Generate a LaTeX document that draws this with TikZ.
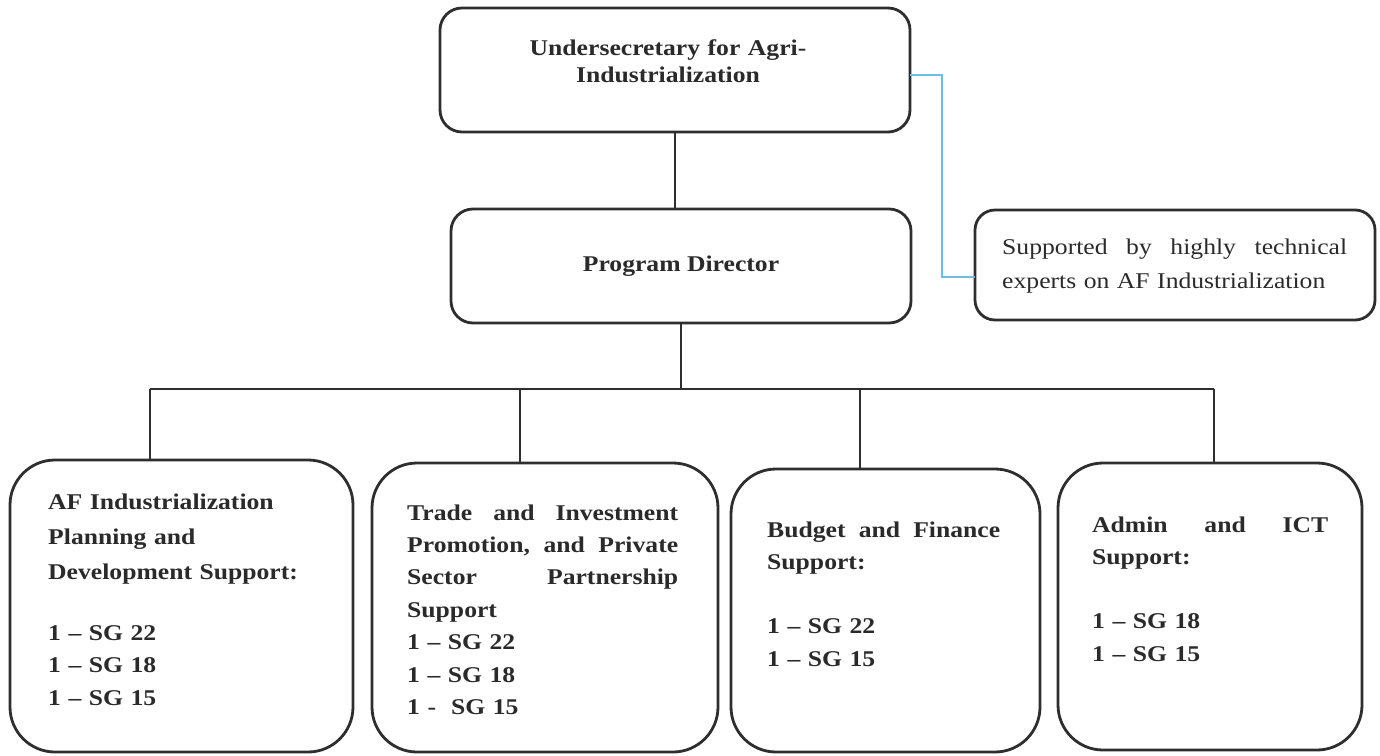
\documentclass[tikz,border=0pt]{standalone}
\usepackage{fontspec}
\setmainfont{Liberation Serif}[FakeStretch=1.14]
\definecolor{linec}{HTML}{2E2E2E}
\definecolor{txtc}{HTML}{2A2A2A}
\definecolor{bluec}{HTML}{6BBDE3}
\newcommand{\jline}[2]{\makebox[#1]{#2}}
\begin{document}
\begin{tikzpicture}[x=1pt,y=-1pt,
  orgbox/.style={draw=linec, line width=2.8pt, rounded corners=#1, inner sep=0pt, outer sep=0pt, text=txtc},
  orgbox/.default=22pt,
  conn/.style={draw=linec, line width=1.9pt},
  lbl/.style={anchor=base west, inner sep=0pt, text=txtc, align=left,
    font=\fontsize{22.5}{32.4}\selectfont\bfseries},
]
\useasboundingbox (0,0) rectangle (1380,755);
% boxes
\node[orgbox, minimum width=470pt, minimum height=124pt] (top) at (675,70) {};
\node[orgbox, minimum width=460pt, minimum height=114pt,
      font=\fontsize{22.5}{32.4}\selectfont\bfseries] (pd) at (681,266) {Program Director};
\node[orgbox=20pt, minimum width=400pt, minimum height=110pt] (sup) at (1175,265) {};
\node[orgbox=45pt, minimum width=343pt, minimum height=292pt] (b1) at (181.5,606) {};
\node[orgbox=45pt, minimum width=346pt, minimum height=289pt] (b2) at (545,607.5) {};
\node[orgbox=45pt, minimum width=309pt, minimum height=283pt] (b3) at (885.5,610.5) {};
\node[orgbox=45pt, minimum width=304pt, minimum height=287pt] (b4) at (1210,606.5) {};
% texts
\node[lbl, anchor=base, align=center, text width=420pt] (tt) at (668,55)
  {Undersecretary for Agri-\\[-5pt]Industrialization};
\node[lbl, text width=345pt, font=\fontsize{22.5}{34}\selectfont] (ts) at (1002,254)
  {\jline{345pt}{Supported\hfill by\hfill highly\hfill technical}\\experts on AF Industrialization};
\node[lbl, text width=300pt] (t1) at (48,509)
  {AF Industrialization\\[3pt]Planning and\\[3pt]Development Support:\\[28pt]1 – SG 22\\1 – SG 18\\1 – SG 15};
\node[lbl, text width=271pt] (t2) at (407,520)
  {\jline{271pt}{Trade\hfill and\hfill Investment}\\\jline{271pt}{Promotion,\hfill and\hfill Private}\\\jline{271pt}{Sector\hfill Partnership}\\Support\\1 – SG 22\\1 – SG 18\\1 -\ \ SG 15};
\node[lbl, text width=233pt] (t3) at (767,537)
  {\jline{233pt}{Budget\hfill and\hfill Finance}\\Support:\\[32pt]1 – SG 22\\1 – SG 15};
\node[lbl, text width=236pt] (t4) at (1092,532)
  {\jline{236pt}{Admin\hfill and\hfill ICT}\\Support:\\[32pt]1 – SG 18\\1 – SG 15};
% connectors
\draw[conn] (top.south) -- (top.south |- pd.north);
\coordinate (busL) at (150,389);
\coordinate (d2) at (520,389);
\coordinate (d3) at (860,389);
\coordinate (busR) at (1214,389);
\draw[conn] (pd.south) -- (pd.south |- busL);
\draw[conn] (busL) -- (busR);
\draw[conn] (busL) -- (busL |- b1.north);
\draw[conn] (d2) -- (d2 |- b2.north);
\draw[conn] (d3) -- (d3 |- b3.north);
\draw[conn] (busR) -- (busR |- b4.north);
\draw[draw=bluec, line width=1.3pt] ([yshift=-5pt]top.east) -- ++(32,0) |- ([yshift=-12pt]sup.west);
\end{tikzpicture}
\end{document}
